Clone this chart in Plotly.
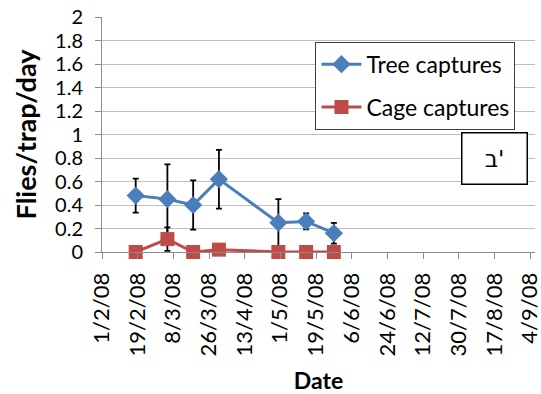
import plotly.graph_objects as go

dates = ["2008-02-18", "2008-03-05", "2008-03-18", "2008-03-31",
         "2008-04-30", "2008-05-14", "2008-05-28"]
tree = [0.48, 0.45, 0.40, 0.62, 0.25, 0.26, 0.16]
tree_err = [0.145, 0.295, 0.21, 0.25, 0.20, 0.068, 0.088]
cage = [0.0, 0.11, 0.0, 0.02, 0.0, 0.0, 0.0]
cage_err = [0.0, 0.10, 0.0, 0.0, 0.0, 0.0, 0.0]

tick_dates = ["2008-02-01", "2008-02-19", "2008-03-08", "2008-03-26", "2008-04-13",
              "2008-05-01", "2008-05-19", "2008-06-06", "2008-06-24", "2008-07-12",
              "2008-07-30", "2008-08-17", "2008-09-04"]
tick_text = ["1/2/08", "19/2/08", "8/3/08", "26/3/08", "13/4/08", "1/5/08", "19/5/08",
             "6/6/08", "24/6/08", "12/7/08", "30/7/08", "17/8/08", "4/9/08"]
y_ticks = [0, 0.2, 0.4, 0.6, 0.8, 1, 1.2, 1.4, 1.6, 1.8, 2]
y_text = ["0", "0.2", "0.4", "0.6", "0.8", "1", "1.2", "1.4", "1.6", "1.8", "2"]

FONT = "Lato, DejaVu Sans, sans-serif"

fig = go.Figure()
fig.add_trace(go.Scatter(
    x=dates, y=tree, name="Tree captures", mode="lines+markers",
    line=dict(color="#4A7EBB", width=3),
    marker=dict(symbol="diamond", size=14, color="#4A7EBB"),
    error_y=dict(type="data", array=tree_err, visible=True, color="black",
                 thickness=1.8, width=3),
    legendgroup="a", cliponaxis=False,
))
fig.add_trace(go.Scatter(
    x=dates, y=cage, name="Cage captures", mode="lines+markers",
    line=dict(color="#BE4B48", width=3),
    marker=dict(symbol="square", size=14, color="#BE4B48"),
    error_y=dict(type="data", array=cage_err, visible=True, color="black",
                 thickness=1.8, width=3),
    legendgroup="b", cliponaxis=False,
))

fig.update_layout(
    width=541, height=394,
    margin=dict(l=102, r=6, t=17, b=142),
    paper_bgcolor="white", plot_bgcolor="white",
    font=dict(family=FONT, color="black"),
    showlegend=True,
    legend=dict(x=0.493, y=0.895, xanchor="left", yanchor="top",
                bordercolor="#404040", borderwidth=1, bgcolor="white",
                font=dict(size=23, family=FONT), tracegroupgap=10,
                itemwidth=40),
    xaxis=dict(
        range=["2008-02-01", "2008-09-06 12:00"], tickvals=tick_dates, ticktext=tick_text,
        tickangle=-90, tickfont=dict(size=22, family=FONT), automargin=False,
        ticklabeloverflow="allow",
        showgrid=False, showline=True, linecolor="#8c8c8c", linewidth=1,
        ticks="outside", ticklen=6, tickcolor="#8c8c8c", ticklabelstandoff=5,
        title=dict(text="<b>Date</b>", font=dict(size=23, family=FONT), standoff=20),
    ),
    yaxis=dict(
        range=[0, 2], tickvals=y_ticks, ticktext=y_text, automargin=False,
        tickfont=dict(size=20, family=FONT),
        showgrid=True, gridcolor="#bfbfbf", gridwidth=1,
        showline=True, linecolor="#8c8c8c", linewidth=1,
        ticks="outside", ticklen=6, tickcolor="#8c8c8c", zeroline=False,
        ticklabelstandoff=8,
        title=dict(text="<b>Flies/trap/day</b>", font=dict(size=27, family=FONT), standoff=10),
    ),
    annotations=[dict(
        x=0.906, y=0.398, xref="paper", yref="paper", xanchor="center", yanchor="middle",
        text="\u202dב'\u202c", showarrow=False,
        font=dict(size=23, family="DejaVu Sans"), width=62, height=48,
        bordercolor="black", borderwidth=1.5, bgcolor="white", valign="middle",
    )],
)

fig.write_html("out.html")
